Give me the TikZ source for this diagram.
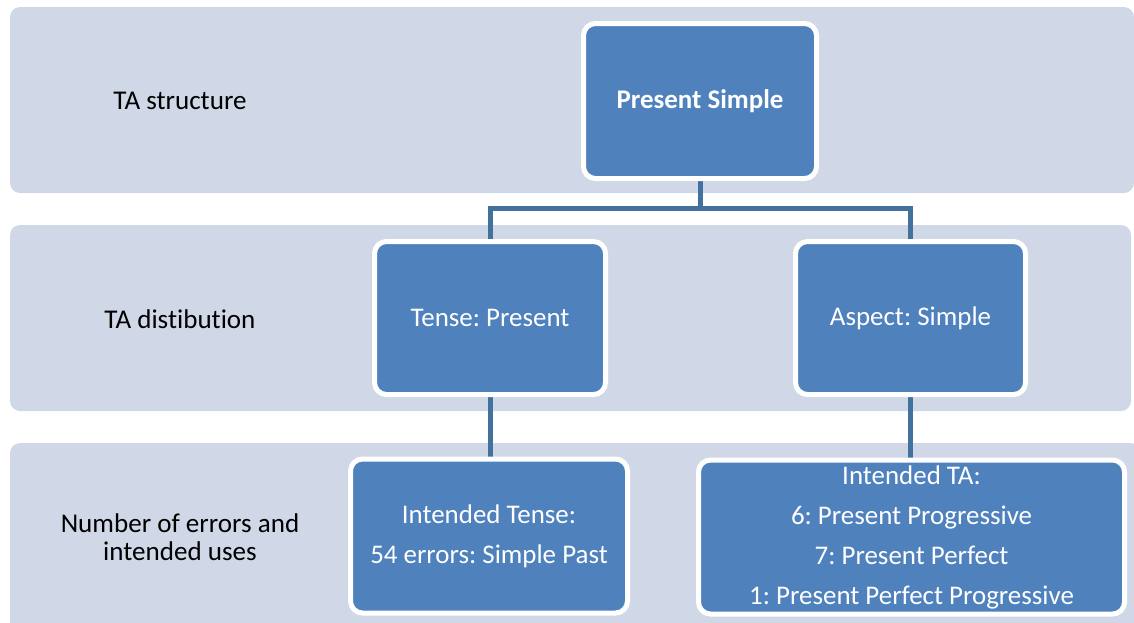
\documentclass[tikz,border=0pt]{standalone}
\usepackage{fontspec}
\setmainfont{Carlito}[Ligatures={NoCommon}]
\frenchspacing
\definecolor{bandfill}{HTML}{D0D8E8}
\definecolor{boxfill}{HTML}{4F81BD}
\definecolor{linkcol}{HTML}{41719C}
\pgfdeclarelayer{bands}
\pgfdeclarelayer{links}
\pgfsetlayers{bands,links,main}
\tikzset{
  band/.style={fill=bandfill, rounded corners=7.5pt},
  tabox/.style={draw=white, line width=3.75pt, fill=boxfill, rounded corners=9pt,
    text=white, align=center, inner sep=0pt,
    font=\fontsize{20.2}{30}\selectfont},
  rowlabel/.style={text=black, align=center, inner sep=0pt,
    font=\fontsize{20.3}{21}\selectfont},
  conn/.style={draw=linkcol, line width=3.75pt}
}
\begin{document}
\begin{tikzpicture}[x=0.75pt, y=-0.75pt]
\useasboundingbox (0,0) rectangle (1134,622);

% row bands
\begin{pgfonlayer}{bands}
  \fill[band] (10,7) rectangle (1134,193);
  \fill[band] (10,225) rectangle (1131,411);
  \fill[band] (10,443) rectangle (1140,650);
\end{pgfonlayer}

% row labels
\node[rowlabel] (l1) at (180,101) {TA structure};
\node[rowlabel] (l2) at (180,319) {TA distibution};
\node[rowlabel] (l3) at (180,537) {Number of errors and\\intended uses};

% hierarchy boxes
\node[tabox, minimum width=233*0.75pt, minimum height=155*0.75pt,
  font=\fontsize{20.2}{30}\selectfont\bfseries] (ps) at (700,101) {Present Simple};
\node[tabox, minimum width=231*0.75pt, minimum height=153*0.75pt] (tp) at (490,318) {Tense: Present};
\node[tabox, minimum width=230*0.75pt, minimum height=153*0.75pt] (as) at (910.5,318) {Aspect: Simple};
\node[tabox, minimum width=277*0.75pt, minimum height=154*0.75pt] (it) at (489,536)
  {Intended Tense:\\54 errors: Simple Past};
\node[tabox, minimum width=426*0.75pt, minimum height=154*0.75pt] (ia) at (911.5,537)
  {Intended TA:\\6: Present Progressive\\7: Present Perfect\\1: Present Perfect Progressive};

% connectors
\coordinate (bus) at (700,208);
\begin{pgfonlayer}{links}
  \draw[conn] (ps.south) -- (bus);
  \draw[conn] (bus) -| (tp.north);
  \draw[conn] (bus) -| (as.north);
  \draw[conn] (tp.south) -- (it.north -| tp.south);
  \draw[conn] (as.south) -- (ia.north -| as.south);
\end{pgfonlayer}
\end{tikzpicture}
\end{document}
